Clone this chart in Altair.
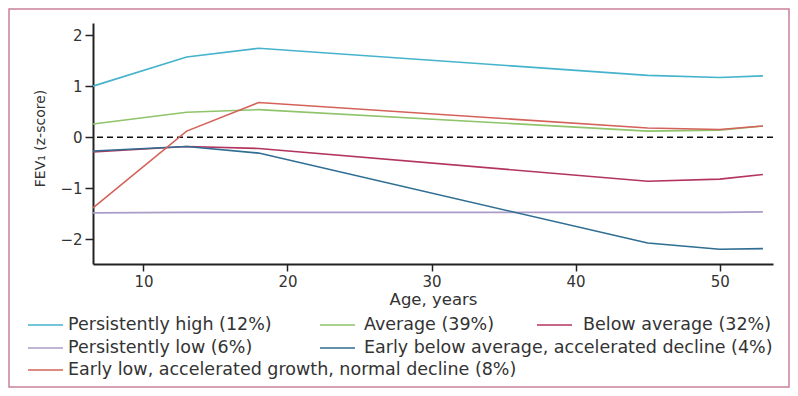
import altair as alt
import pandas as pd

# ---- data ----
ages = [6.5, 13, 18, 45, 50, 53]
series_names = [
    "Persistently high (12%)",
    "Average (39%)",
    "Below average (32%)",
    "Persistently low (6%)",
    "Early below average, accelerated decline (4%)",
    "Early low, accelerated growth, normal decline (8%)",
]
persistently_high = [1.00, 1.57, 1.74, 1.21, 1.17, 1.20]
average = [0.26, 0.49, 0.54, 0.12, 0.14, 0.22]
below_average = [-0.29, -0.18, -0.22, -0.86, -0.82, -0.73]
persistently_low = [-1.48, -1.47, -1.47, -1.47, -1.47, -1.46]
early_below_decline = [-0.27, -0.18, -0.31, -2.07, -2.19, -2.18]
early_low_growth = [-1.38, 0.12, 0.68, 0.18, 0.15, 0.22]
series_values = [persistently_high, average, below_average,
                 persistently_low, early_below_decline, early_low_growth]
colors = ["#45b3cc", "#8fc46a", "#b3345e", "#aa9cc8", "#2f6d92", "#d4625a"]

x_ticks = [10, 20, 30, 40, 50]
y_ticks = [-2, -1, 0, 1, 2]

FONT = "DejaVu Sans"

rows = []
for name, vals in zip(series_names, series_values):
    for a, v in zip(ages, vals):
        rows.append({"series": name, "age": a, "fev": v})
df = pd.DataFrame(rows)

color_scale = alt.Scale(domain=series_names, range=colors)

x_enc = alt.X("age:Q",
              scale=alt.Scale(domain=[6.5, 53.7], nice=False, zero=False),
              axis=alt.Axis(values=x_ticks, format="d", title="Age, years", grid=False,
                            labelFont=FONT, labelFontSize=15, labelColor="#333",
                            titleFont=FONT, titleFontSize=16.5, titleFontWeight="normal",
                            titleColor="#333", titlePadding=2,
                            domainColor="#222", domainWidth=2,
                            tickColor="#222", tickWidth=1.5, tickSize=7, labelPadding=3))
y_enc = alt.Y("fev:Q",
              scale=alt.Scale(domain=[-2.48, 2.235], nice=False, zero=False),
              axis=alt.Axis(values=y_ticks, format="d", title="FEV\u2081 (z-score)", grid=False,
                            labelFont=FONT, labelFontSize=15, labelColor="#333",
                            titleFont=FONT, titleFontSize=14, titleFontWeight="normal",
                            titleColor="#333", titleAngle=-90, titleX=-53, titleY=115,
                            titleAlign="center", titleBaseline="middle",
                            domainColor="#222", domainWidth=2,
                            tickColor="#222", tickWidth=1.5, tickSize=8, labelPadding=3))

lines = alt.Chart(df).mark_line(strokeWidth=1.6).encode(
    x=x_enc, y=y_enc,
    color=alt.Color("series:N", scale=color_scale, legend=None),
    detail="series:N",
)

zero = alt.Chart(alt.Data(values=[{"z": 0}])).mark_rule(
    color="#111", strokeWidth=1.5, strokeDash=[6, 4]
).encode(y=alt.Y("z:Q"))

# ---- manual legend (layout in pixels relative to plot origin) ----
legend_rows_y = [302, 325, 347]
legend_line_x1 = [-65, 227, 444]
legend_line_x2 = [-30, 262, 479]
legend_text_x = [-25, 271, 490]
legend_slots = [(0, 0), (0, 1), (0, 2), (1, 0), (1, 1), (2, 0)]
leg_rows = []
for name, (r, c) in zip(series_names, legend_slots):
    leg_rows.append({"series": name, "x1": legend_line_x1[c], "x2": legend_line_x2[c],
                     "tx": legend_text_x[c], "ty": legend_rows_y[r]})
leg_df = pd.DataFrame(leg_rows)

leg_lines = alt.Chart(leg_df).mark_rule(strokeWidth=1.6).encode(
    x=alt.X("x1:Q", scale=None), x2="x2:Q",
    y=alt.Y("ty:Q", scale=None),
    color=alt.Color("series:N", scale=color_scale, legend=None),
)
leg_text = alt.Chart(leg_df).mark_text(
    align="left", baseline="middle", font=FONT, fontSize=17.5, color="#333"
).encode(
    x=alt.X("tx:Q", scale=None), y=alt.Y("ty:Q", scale=None), text="series:N"
)

border = alt.Chart(alt.Data(values=[{"b": 1}])).mark_rect(
    fill=None, stroke="#c9809c", strokeWidth=1.5
).encode(x=alt.value(-84), x2=alt.value(696), y=alt.value(-14), y2=alt.value(364))

chart = alt.layer(border, zero, lines, leg_lines, leg_text).properties(
    width=680, height=241,
    autosize=alt.AutoSizeParams(type="none"),
    padding={"left": 85, "top": 15, "right": 17, "bottom": 124},
    background="white",
).configure_view(stroke=None)

chart.save("out.html", embed_options={"renderer": "svg", "actions": False})
